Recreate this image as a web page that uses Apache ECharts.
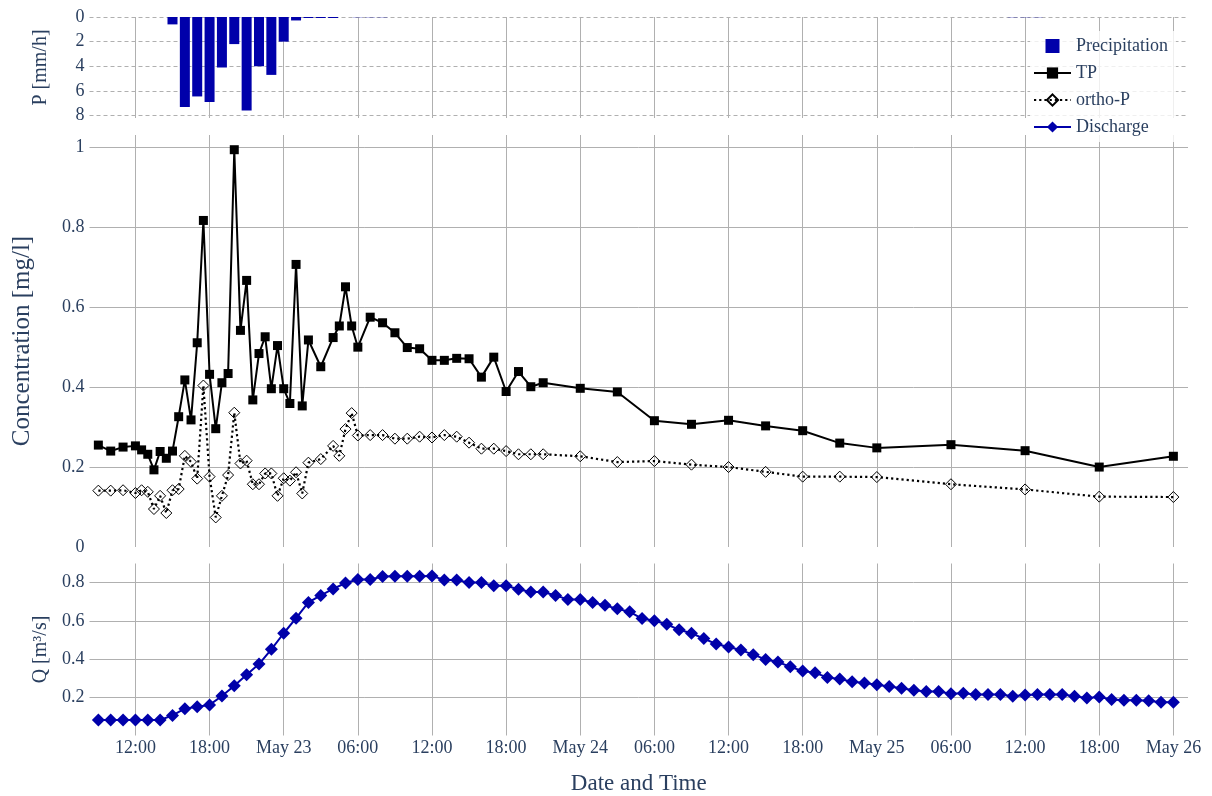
<!DOCTYPE html>
<html><head><meta charset="utf-8">
<script src="https://cdn.jsdelivr.net/npm/echarts@6/dist/echarts.min.js"></script>
<style>html,body{margin:0;padding:0;background:#fff}#c{width:1212px;height:796px}</style>
</head><body><div id="c"></div>
<script>
const YEAR = 2023;

// ---- Precipitation (mm/h) ----
const precipTimes = ['05-22 15:00','05-22 16:00','05-22 17:00','05-22 18:00','05-22 19:00','05-22 20:00','05-22 21:00','05-22 22:00','05-22 23:00',
  '05-23 00:00','05-23 01:00','05-23 02:00','05-23 03:00','05-23 04:00','05-23 06:00','05-23 07:00','05-23 08:00',
  '05-25 11:00','05-25 12:00','05-25 13:00'];
const precipValues = [0.6, 7.3, 6.45, 6.9, 4.1, 2.2, 7.6, 4.0, 4.7,
  2.0, 0.28, 0.08, 0.08, 0.08, 0.02, 0.02, 0.02,
  0.02, 0.02, 0.02];

// ---- Concentrations (mg/l) ----
const concTimes = ['05-22 09:00','05-22 10:00','05-22 11:00','05-22 12:00','05-22 12:30','05-22 13:00','05-22 13:30','05-22 14:00','05-22 14:30',
  '05-22 15:00','05-22 15:30','05-22 16:00','05-22 16:30','05-22 17:00','05-22 17:30','05-22 18:00','05-22 18:30','05-22 19:00','05-22 19:30',
  '05-22 20:00','05-22 20:30','05-22 21:00','05-22 21:30','05-22 22:00','05-22 22:30','05-22 23:00','05-22 23:30',
  '05-23 00:00','05-23 00:30','05-23 01:00','05-23 01:30','05-23 02:00','05-23 03:00','05-23 04:00','05-23 04:30','05-23 05:00','05-23 05:30',
  '05-23 06:00','05-23 07:00','05-23 08:00','05-23 09:00','05-23 10:00','05-23 11:00','05-23 12:00','05-23 13:00','05-23 14:00','05-23 15:00',
  '05-23 16:00','05-23 17:00','05-23 18:00','05-23 19:00','05-23 20:00','05-23 21:00',
  '05-24 00:00','05-24 03:00','05-24 06:00','05-24 09:00','05-24 12:00','05-24 15:00','05-24 18:00','05-24 21:00',
  '05-25 00:00','05-25 06:00','05-25 12:00','05-25 18:00','05-26 00:00'];
const tpValues = [0.255,0.240,0.250,0.253,0.243,0.232,0.193,0.239,0.222,
  0.240,0.326,0.418,0.318,0.511,0.817,0.432,0.296,0.411,0.434,
  0.994,0.542,0.667,0.368,0.484,0.526,0.396,0.504,
  0.396,0.359,0.707,0.353,0.518,0.451,0.524,0.553,0.651,0.553,
  0.500,0.575,0.561,0.536,0.499,0.496,0.467,0.467,0.472,0.471,
  0.425,0.475,0.389,0.439,0.401,0.411,
  0.397,0.388,0.316,0.307,0.317,0.303,0.291,0.260,
  0.248,0.256,0.241,0.200,0.227];
const orthoPValues = [0.141,0.141,0.142,0.135,0.142,0.138,0.095,0.128,0.085,
  0.142,0.145,0.228,0.213,0.171,0.404,0.176,0.074,0.128,0.180,
  0.336,0.209,0.216,0.157,0.157,0.184,0.184,0.128,
  0.172,0.166,0.187,0.134,0.211,0.220,0.253,0.228,0.295,0.335,
  0.279,0.280,0.280,0.271,0.271,0.276,0.274,0.280,0.276,0.261,
  0.246,0.246,0.240,0.232,0.232,0.232,
  0.227,0.2125,0.215,0.206,0.200,0.188,0.176,0.176,
  0.175,0.157,0.144,0.126,0.125];

// ---- Discharge (m3/s), hourly ----
const qTimes = [
  '05-22 09:00','05-22 10:00','05-22 11:00','05-22 12:00','05-22 13:00','05-22 14:00','05-22 15:00','05-22 16:00','05-22 17:00','05-22 18:00','05-22 19:00','05-22 20:00','05-22 21:00','05-22 22:00','05-22 23:00',
  '05-23 00:00','05-23 01:00','05-23 02:00','05-23 03:00','05-23 04:00','05-23 05:00','05-23 06:00','05-23 07:00','05-23 08:00','05-23 09:00','05-23 10:00','05-23 11:00',
  '05-23 12:00','05-23 13:00','05-23 14:00','05-23 15:00','05-23 16:00','05-23 17:00','05-23 18:00','05-23 19:00','05-23 20:00','05-23 21:00','05-23 22:00','05-23 23:00',
  '05-24 00:00','05-24 01:00','05-24 02:00','05-24 03:00','05-24 04:00','05-24 05:00','05-24 06:00','05-24 07:00','05-24 08:00','05-24 09:00','05-24 10:00','05-24 11:00',
  '05-24 12:00','05-24 13:00','05-24 14:00','05-24 15:00','05-24 16:00','05-24 17:00','05-24 18:00','05-24 19:00','05-24 20:00','05-24 21:00','05-24 22:00','05-24 23:00',
  '05-25 00:00','05-25 01:00','05-25 02:00','05-25 03:00','05-25 04:00','05-25 05:00','05-25 06:00','05-25 07:00','05-25 08:00','05-25 09:00','05-25 10:00','05-25 11:00',
  '05-25 12:00','05-25 13:00','05-25 14:00','05-25 15:00','05-25 16:00','05-25 17:00','05-25 18:00','05-25 19:00','05-25 20:00','05-25 21:00','05-25 22:00','05-25 23:00',
  '05-26 00:00'];
const qValues = [
  0.081,0.081,0.081,0.081,0.081,0.081,0.105,0.140,0.151,0.160,0.207,0.260,0.318,0.374,0.451,
  0.535,0.614,0.696,0.733,0.767,0.798,0.816,0.816,0.832,0.833,0.833,0.833,
  0.835,0.814,0.814,0.800,0.800,0.784,0.784,0.765,0.751,0.751,0.733,0.712,
  0.712,0.696,0.681,0.663,0.647,0.612,0.600,0.582,0.553,0.535,0.507,0.479,
  0.463,0.447,0.423,0.398,0.384,0.360,0.337,0.328,0.304,0.296,0.281,0.275,
  0.265,0.256,0.247,0.237,0.230,0.230,0.219,0.221,0.214,0.214,0.214,0.205,
  0.212,0.214,0.214,0.214,0.205,0.196,0.202,0.189,0.184,0.184,0.182,0.174,
  0.174];

// ---- Axis ticks ----
const xTickTimes = ['05-22 12:00','05-22 18:00','05-23 00:00','05-23 06:00','05-23 12:00','05-23 18:00','05-24 00:00',
  '05-24 06:00','05-24 12:00','05-24 18:00','05-25 00:00','05-25 06:00','05-25 12:00','05-25 18:00','05-26 00:00'];
const monthNames = ['Jan','Feb','Mar','Apr','May','Jun','Jul','Aug','Sep','Oct','Nov','Dec'];
const xRangeStart = '05-22 08:17';
const xRangeEnd = '05-26 01:11';

function t(s) {
  const m = s.match(/(\d+)-(\d+) (\d+):(\d+)/);
  return Date.UTC(YEAR, +m[1] - 1, +m[2], +m[3], +m[4]);
}
function pairs(ts, vs) { return ts.map((s, i) => [t(s), vs[i]]); }
function pad(n) { return (n < 10 ? '0' : '') + n; }
function fmtX(v) {
  const d = new Date(v);
  if (d.getUTCHours() === 0 && d.getUTCMinutes() === 0) return monthNames[d.getUTCMonth()] + ' ' + d.getUTCDate();
  return pad(d.getUTCHours()) + ':' + pad(d.getUTCMinutes());
}

const FONT = '"Liberation Serif", "Times New Roman", serif';
const TXT = '#2a3f5f';
const GRIDC = '#b0b0b0';
const BLUE = '#0000AA';
const xTicks = xTickTimes.map(t);
const L = 89.5, W = 1098.5;

function xAxis(i) {
  return {
    type: 'value', gridIndex: i, min: t(xRangeStart), max: t(xRangeEnd),
    axisLine: { show: false },
    axisTick: { show: false, customValues: xTicks },
    splitLine: { show: true, lineStyle: { color: GRIDC, width: 1 } },
    axisLabel: { show: i === 2, customValues: xTicks, formatter: fmtX, fontSize: 18, fontFamily: FONT, color: TXT, margin: 4 },
    name: i === 2 ? 'Date and Time' : '', nameLocation: 'middle', nameGap: 37,
    nameTextStyle: { fontSize: 23, fontFamily: FONT, color: TXT }
  };
}
function yAxis(i, o, fs) {
  return Object.assign({
    type: 'value', gridIndex: i,
    axisLine: { show: false }, axisTick: { show: false },
    nameLocation: 'middle', nameRotate: 90,
    nameTextStyle: { fontSize: fs, fontFamily: FONT, color: TXT },
  }, o);
}
const lbl = (extra) => Object.assign({ fontSize: 18, fontFamily: FONT, color: TXT, margin: 5 }, extra);

const chart = echarts.init(document.getElementById('c'), null, { renderer: 'canvas' });
chart.setOption({
  animation: false,
  backgroundColor: '#fff',
  grid: [
    { left: L, width: W, top: 17, height: 101, outerBoundsMode: 'none' },
    { left: L, width: W, top: 135, height: 412, outerBoundsMode: 'none' },
    { left: L, width: W, top: 563.5, height: 172, outerBoundsMode: 'none' }
  ],
  xAxis: [xAxis(0), xAxis(1), xAxis(2)],
  yAxis: [
    yAxis(0, { inverse: true, min: 0, max: 8.2, interval: 2, name: 'P [mm/h]', nameGap: 39,
      axisLabel: lbl({ showMaxLabel: false }),
      splitLine: { show: true, showMaxLine: false, lineStyle: { color: GRIDC, type: [4, 3] } } }, 20),
    yAxis(1, { min: 0, max: 1.0308, interval: 0.2, name: 'Concentration [mg/l]', nameGap: 55,
      axisLabel: lbl({ showMaxLabel: false }),
      splitLine: { show: true, showMinLine: false, showMaxLine: false, lineStyle: { color: GRIDC } } }, 25),
    yAxis(2, { min: 0, max: 0.9, interval: 0.2, name: 'Q [m\u00b3/s]', nameGap: 39,
      axisLabel: lbl({ showMinLabel: false, showMaxLabel: false }),
      splitLine: { show: true, showMinLine: false, showMaxLine: false, lineStyle: { color: GRIDC } } }, 20)
  ],
  legend: {
    orient: 'vertical', left: 1030, top: 31,
    itemWidth: 37, itemHeight: 14, itemGap: 9,
    padding: [6, 8, 6, 3],
    backgroundColor: 'rgba(255,255,255,0.8)',
    textStyle: { fontSize: 18, fontFamily: FONT, color: TXT },
    data: [
      { name: 'Precipitation', icon: 'path://M0,0H10V10H0Z' },
      'TP', 'ortho-P', 'Discharge'
    ]
  },
  series: [
    { name: 'Precipitation', type: 'bar', xAxisIndex: 0, yAxisIndex: 0,
      data: pairs(precipTimes, precipValues), barWidth: 10,
      itemStyle: { color: BLUE } },
    { name: 'TP', type: 'line', xAxisIndex: 1, yAxisIndex: 1,
      data: pairs(concTimes, tpValues),
      symbol: 'rect', symbolSize: 9, showAllSymbol: true,
      lineStyle: { color: '#000', width: 2 }, itemStyle: { color: '#000' } },
    { name: 'ortho-P', type: 'line', xAxisIndex: 1, yAxisIndex: 1,
      data: pairs(concTimes, orthoPValues),
      symbol: 'diamond', symbolSize: 11, showAllSymbol: true,
      lineStyle: { color: '#000', width: 2.2, type: [2.2, 3] },
      itemStyle: { color: 'rgba(255,255,255,0)', borderColor: '#000', borderWidth: 1 } },
    { name: 'Discharge', type: 'line', xAxisIndex: 2, yAxisIndex: 2,
      data: pairs(qTimes, qValues),
      symbol: 'diamond', symbolSize: 13, showAllSymbol: true,
      lineStyle: { color: BLUE, width: 2 }, itemStyle: { color: BLUE } }
  ]
});
</script>
</body></html>
